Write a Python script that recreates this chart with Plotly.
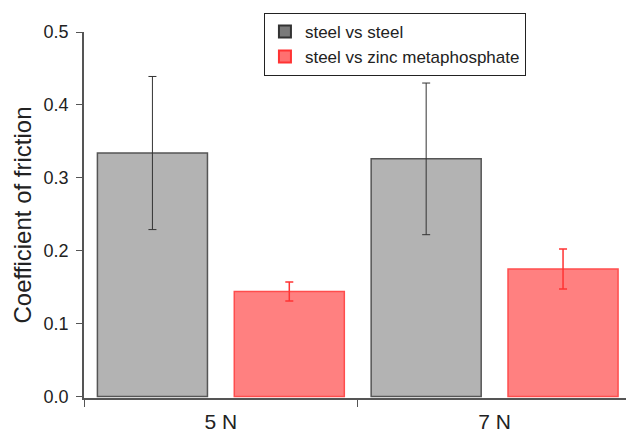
import plotly.graph_objects as go

categories = ["5 N", "7 N"]
series_names = ["steel vs steel", "steel vs zinc metaphosphate"]
steel_steel = [0.334, 0.326]
steel_steel_err = [0.105, 0.104]
steel_zinc = [0.144, 0.175]
steel_zinc_err = [0.013, 0.0275]
y_ticks = [0.0, 0.1, 0.2, 0.3, 0.4, 0.5]

fig = go.Figure()
fig.add_trace(go.Bar(
    name=series_names[0], x=categories, y=steel_steel, offsetgroup="a", showlegend=False,
    marker=dict(color="#b3b3b3", line=dict(color="#555555", width=1.5)),
    error_y=dict(type="data", array=steel_steel_err, color="#333333", thickness=1, width=4),
))
fig.add_trace(go.Bar(
    name=series_names[1], x=categories, y=steel_zinc, offsetgroup="b", showlegend=False,
    marker=dict(color="#ff8080", line=dict(color="#ff4d4d", width=1.5)),
    error_y=dict(type="data", array=steel_zinc_err, color="#ff3333", thickness=1.5, width=4),
))
# legend swatches (darker, as in the original legend)
fig.add_trace(go.Bar(
    name=series_names[0], x=[categories[0]], y=[None], offsetgroup="a",
    marker=dict(color="#7a7a7a", line=dict(color="#333333", width=1.5)),
))
fig.add_trace(go.Bar(
    name=series_names[1], x=[categories[0]], y=[None], offsetgroup="b",
    marker=dict(color="#ff7070", line=dict(color="#ff3333", width=1.5)),
))

fig.update_layout(
    width=626, height=436,
    margin=dict(l=84, r=0, t=32, b=38),
    plot_bgcolor="white", paper_bgcolor="white",
    barmode="group", bargap=0, bargroupgap=0.196,
    font=dict(family="Liberation Sans, Arial, sans-serif", size=18, color="#222222"),
    showlegend=True,
    legend=dict(
        x=0.332, y=1.052, xanchor="left", yanchor="top",
        bordercolor="#222222", borderwidth=1, bgcolor="white",
        font=dict(size=17, color="#222222"),
        tracegroupgap=0, itemsizing="constant",
    ),
)
fig.update_xaxes(
    range=[-0.5, 1.48], showline=True, linecolor="#555555", linewidth=1.5,
    ticks="outside", tickson="boundaries", ticklen=7, tickcolor="#555555",
    tickfont=dict(size=21), ticklabelstandoff=4, showgrid=False, zeroline=False,
)
fig.update_yaxes(
    range=[-0.002, 0.5], tickvals=y_ticks, tickformat=".1f",
    showline=True, linecolor="#555555", linewidth=1.5,
    ticks="outside", ticklen=6, tickcolor="#555555",
    tickfont=dict(size=18), ticklabelstandoff=4,
    showgrid=False, zeroline=False,
    title=dict(text="Coefficient of friction", font=dict(size=24), standoff=5),
)

fig.write_html("out.html")
